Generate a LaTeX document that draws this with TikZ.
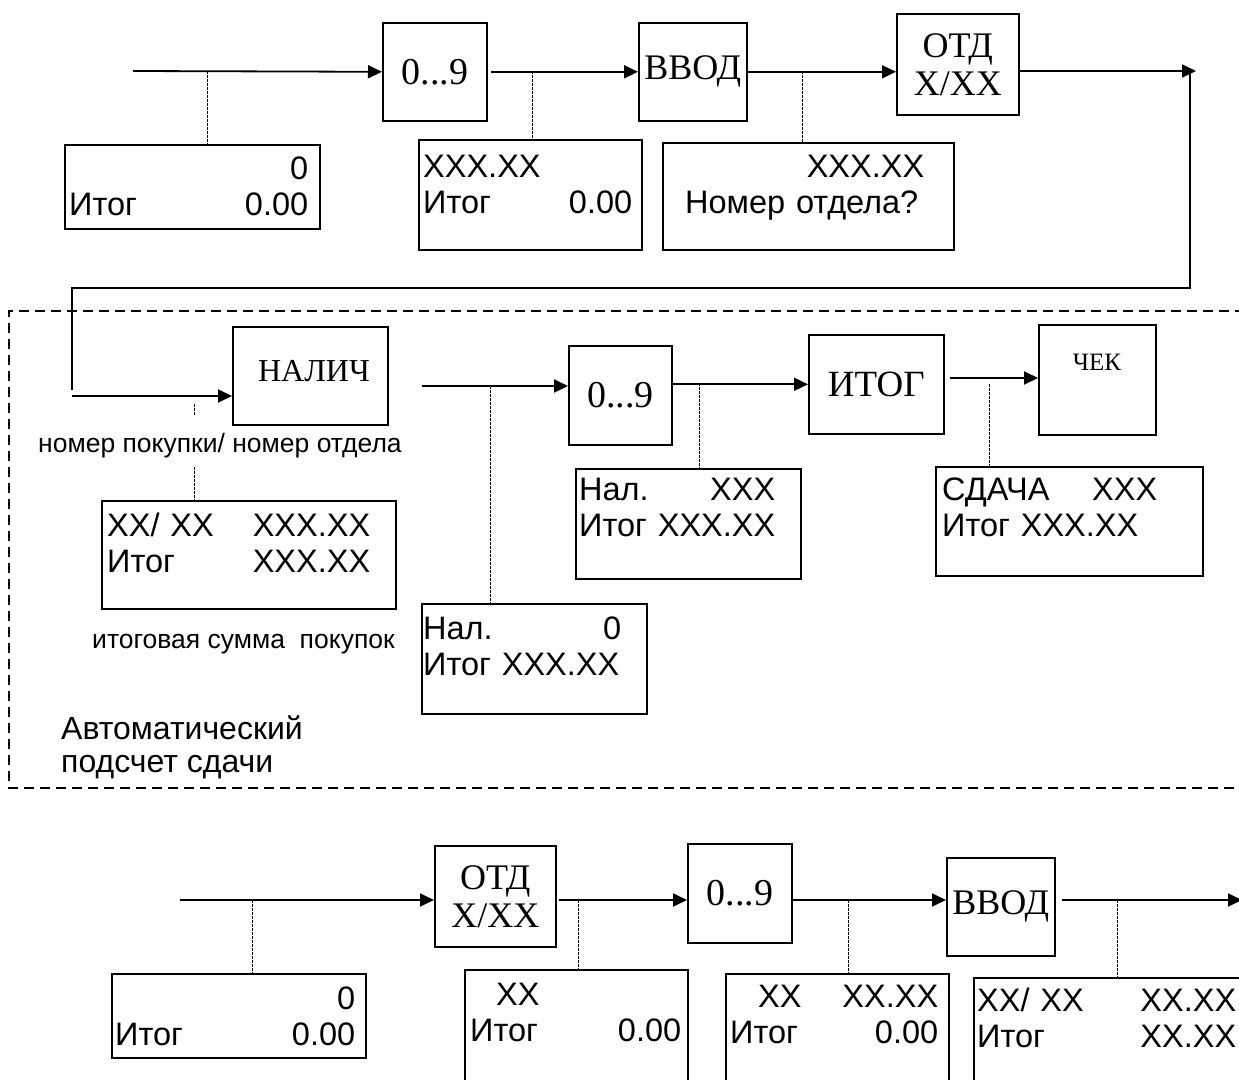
\documentclass[tikz,border=0pt]{standalone}
\usepackage{fontspec}
\setmainfont{Liberation Sans}
\newfontfamily\keyfont{Liberation Serif}
\usetikzlibrary{arrows.meta, positioning, calc}

\begin{document}
\begin{tikzpicture}[x=1pt, y=-1pt, >={Triangle[length=14pt,width=13pt]},
	key/.style={draw, line width=1.6pt, anchor=north west, inner sep=0pt, align=center, font=\keyfont\fontsize{36}{38}\selectfont},
	lcd/.style={draw, line width=1.9pt, anchor=north west, inner sep=0pt},
	lcdtext/.style={anchor=north west, inner sep=0pt, align=left, font=\fontsize{32.5}{36}\selectfont},
	flow/.style={->, line width=1.8pt},
	tap/.style={line width=0.8pt, dash pattern=on 2.5pt off 1.5pt},
	note/.style={anchor=base west, inner sep=0pt, font=\fontsize{26.5}{28}\selectfont}]
			\useasboundingbox (0,0) rectangle (1239,1079);
			
			% Row 1: entering a price
			\coordinate (s1) at (133,71);
			\node[key, minimum width=104pt, minimum height=98pt, font=\keyfont\fontsize{38}{40}\selectfont] (k09a) at (382,22) {0...9};
			\node[key, minimum width=108pt, minimum height=98pt] (vvod1) at (638,22) {ВВОД};
			\node[key, minimum width=122pt, minimum height=101pt] (otd1) at (896,13) {ОТД\\X/XX};
			
			\draw[flow] (s1) -- (k09a.west);
			\draw[flow] ([xshift=3pt]k09a.east) -- (vvod1.west);
			\draw[flow] (vvod1.east) -- (vvod1.east -| otd1.west);
			
			% Displays of row 1
			\node[lcd, minimum width=255pt, minimum height=84pt] (d1) at (64,144) {};
			\node[lcdtext, text width=239pt] at (69,157) {\null\hfill 0\hspace*{29pt}\\Итог\hfill 0.00};
			\node[lcd, minimum width=223pt, minimum height=110pt] (d2) at (418,139) {};
			\node[lcdtext, text width=209pt] at (423,155) {XXX.XX\\Итог\hfill 0.00};
			\node[lcd, minimum width=291pt, minimum height=107pt] (d3) at (662,142) {};
			\node[lcdtext, text width=239pt] at (685,155) {\null\hfill XXX.XX\\Номер отдела?};
			
			\coordinate (t1) at (207,71);
			\coordinate (t2) at (532,71);
			\coordinate (t3) at (802,71);
			\draw[tap] (t1) -- (t1 |- d1.north);
			\draw[tap] (t2) -- (t2 |- d2.north);
			\draw[tap] (t3) -- (t3 |- d3.north);
			
			% Return to row 2
			\coordinate (c1) at (1196,71);
			\coordinate (turn) at (1190,71);
			\coordinate (back) at (72,288);
			\coordinate (s2in) at (72,396);
			\draw[flow] (otd1.east |- s1) -- (c1);
			\draw[line width=1.8pt] (turn) |- (back) -- ++(0,102);
			
			% Frame of row 2
			\draw[line width=1.2pt, dash pattern=on 10pt off 6pt] (1245,311) -| (9,788) -- (1245,788);
			
			% Row 2: change
			\node[key, minimum width=155pt, minimum height=98pt] (nalich) at (232,326) {};
			\node[anchor=base, inner sep=0pt, font=\keyfont\fontsize{32}{34}\selectfont] at (314,381) {НАЛИЧ};
			\node[key, minimum width=103pt, minimum height=99pt, font=\keyfont\fontsize{38}{40}\selectfont] (k09b) at (568,345) {0...9};
			\node[key, minimum width=135pt, minimum height=99pt, font=\keyfont\fontsize{37}{40}\selectfont] (itog) at (808,334) {ИТОГ};
			\node[key, minimum width=117pt, minimum height=110pt] (chek) at (1038,324) {};
			\node[anchor=base, inner sep=0pt, font=\keyfont\fontsize{25}{27}\selectfont] at (1097,370) {ЧЕК};
			
			\coordinate (s2) at (422,386);
			\coordinate (s4) at (950,378);
			\draw[flow] (s2in) -- (s2in -| nalich.west);
			\draw[flow] (s2) -- (s2 -| k09b.west);
			\draw[flow] (itog.west -| k09b.east) -- (itog.west);
			\draw[flow] (s4) -- (s4 -| chek.west);
			
			% Displays of row 2
			\node[lcd, minimum width=294pt, minimum height=108pt] (d4) at (101,500) {};
			\node[lcdtext, text width=263pt] at (107,513) {XX/ XX\hfill XXX.XX\\Итог\hfill XXX.XX\hspace*{8pt}};
			\node[lcd, minimum width=225pt, minimum height=110pt] (d5) at (421,603) {};
			\node[lcdtext, text width=198pt] at (423,617) {Нал.\hfill 0\hspace*{4pt}\\\mbox{Итог XXX.XX}};
			\node[lcd, minimum width=225pt, minimum height=110pt] (d6) at (575,468) {};
			\node[lcdtext, text width=196pt] at (579,478) {Нал.\hfill XXX\\\mbox{Итог XXX.XX}};
			\node[lcd, minimum width=267pt, minimum height=109pt] (d7) at (935,466) {};
			\node[lcdtext, text width=215pt] at (942,478) {СДАЧА\hfill XXX\\\mbox{Итог XXX.XX}};
			
			\coordinate (t4a) at (194,404);
			\coordinate (t4b) at (194,467);
			\coordinate (t5) at (490,386);
			\coordinate (t6) at (699,383);
			\coordinate (t7) at (989,384);
			\draw[tap] (t4a) -- ++(0,11);
			\draw[tap] (t4b) -- (t4b |- d4.north);
			\draw[tap] (t5) -- (t5 |- d5.north);
			\draw[tap] (t6) -- (t6 |- d6.north);
			\draw[tap] (t7) -- (t7 |- d7.north);
			
			\node[note] (n1) at (38,452) {номер покупки/ номер отдела};
			\node[note] (n2) at (92,648) {итоговая сумма \ покупок};
			\node[anchor=north west, inner sep=0pt, align=left, font=\fontsize{32}{33}\selectfont] (n3) at (61,716) {Автоматический\\подсчет сдачи};
			
			% Row 3: purchase by department
			\coordinate (s3) at (180,900);
			\coordinate (e3) at (1242,900);
			\node[key, minimum width=121pt, minimum height=101pt] (otd2) at (434,845) {ОТД\\X/XX};
			\node[key, minimum width=104pt, minimum height=99pt, font=\keyfont\fontsize{38}{40}\selectfont] (k09c) at (687,843) {0...9};
			\node[key, minimum width=108pt, minimum height=98pt] (vvod2) at (946,857) {ВВОД};
			
			\draw[flow] (s3) -- (s3 -| otd2.west);
			\draw[flow] ([xshift=2pt]otd2.east |- s3) -- (s3 -| k09c.west);
			\draw[flow] (k09c.east |- s3) -- (s3 -| vvod2.west);
			\draw[flow] ([xshift=6pt]vvod2.east |- s3) -- (e3);
			
			% Displays of row 3
			\node[lcd, minimum width=254pt, minimum height=84pt] (d8) at (111,973) {};
			\node[lcdtext, text width=240pt] at (115,987) {\null\hfill 0\hspace*{31pt}\\Итог\hfill 0.00};
			\node[lcd, minimum width=223pt, minimum height=120pt] (d9) at (464,969) {};
			\node[lcdtext, text width=211pt] at (470,983) {\hspace*{26pt}XX\\Итог\hfill 0.00};
			\node[lcd, minimum width=223pt, minimum height=120pt] (d10) at (725,973) {};
			\node[lcdtext, text width=208pt] at (730,985) {\hspace*{28pt}XX\hfill XX.XX\\Итог\hfill 0.00};
			\node[lcd, minimum width=300pt, minimum height=120pt] (d11) at (973,977) {};
			\node[lcdtext, text width=259pt] at (977,988) {XX/ XX\hfill XX.XX\\Итог\hfill XX.XX\hspace*{8pt}};
			
			\coordinate (t8) at (252,900);
			\coordinate (t9) at (578,900);
			\coordinate (t10) at (848,900);
			\coordinate (t11) at (1117,900);
			\draw[tap] (t8) -- (t8 |- d8.north);
			\draw[tap] (t9) -- (t9 |- d9.north);
			\draw[tap] (t10) -- (t10 |- d10.north);
			\draw[tap] (t11) -- (t11 |- d11.north);
			
		\end{tikzpicture}
\end{document}
